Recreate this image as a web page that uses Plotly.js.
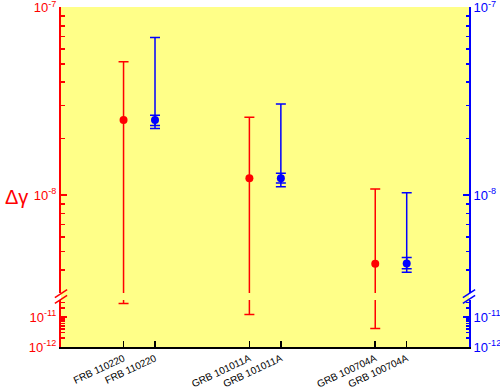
<!DOCTYPE html>
<html>
<head>
<meta charset="utf-8">
<script src="https://cdn.plot.ly/plotly-3.0.1.min.js"></script>
<style>html,body{margin:0;padding:0;background:#fff;}#chart{width:500px;height:390px;}</style>
</head>
<body>
<div id="chart"></div>
<script>
// ---- data ----
var categories = ["FRB 110220", "GRB 101011A", "GRB 100704A"];
var catPos = [1, 2, 3];
var pairOffset = 0.25;
// red series (left axis)
var redValue = [2.52e-8, 1.23e-8, 4.31e-9];
var redUpper = [5.14e-8, 2.60e-8, 1.08e-8];
var redLower = [2.8e-11, 1.2e-11, 4.1e-12];
// blue series (right axis)
var blueValue = [2.52e-8, 1.23e-8, 4.33e-9];
var blueUpper = [6.92e-8, 3.06e-8, 1.03e-8];
var blueLower = [2.27e-8, 1.11e-8, 3.89e-9];
var blueInnerUpper = [2.67e-8, 1.31e-8, 4.65e-9];
var blueInnerLower = [2.35e-8, 1.16e-8, 4.05e-9];
// axis ticks
var majorUpper = [1e-8, 1e-7];
var majorUpperText = ["10<sup>-8</sup>", "10<sup>-7</sup>"];
var majorLower = [1e-12, 1e-11];
var majorLowerText = ["10<sup>-12</sup>", "10<sup>-11</sup>"];

// ---- build ----
var RED = "#ff0000", BLUE = "#0000ff";
var xRed = catPos.slice();
var xBlue = catPos.map(function (c) { return c + pairOffset; });
var tickVals = [], tickText = [];
catPos.forEach(function (c, i) {
  tickVals.push(c, c + pairOffset);
  tickText.push(categories[i], categories[i]);
});
function diff(a, b) { return a.map(function (v, i) { return v - b[i]; }); }
function minors(decades) {
  var out = [];
  decades.forEach(function (d) { for (var k = 2; k <= 9; k++) out.push(k * d); });
  return out;
}

var upperRange = [-8.5213, -6.997];
var lowerRange = [-12.002, -10.4333];
var upperDomain = [0.1588, 1];
var lowerDomain = [0, 0.1382];

var traces = [
  { // red upper segment
    x: xRed, y: redValue, xaxis: "x", yaxis: "y", type: "scatter", mode: "markers",
    marker: { color: RED, size: 8 },
    error_y: { type: "data", symmetric: false, array: diff(redUpper, redValue),
      arrayminus: diff(redValue, redLower), color: RED, thickness: 1.5, width: 5 },
    hoverinfo: "skip", showlegend: false
  },
  { // red lower segment (continuation of error bars below the break)
    x: xRed, y: redValue, xaxis: "x", yaxis: "y3", type: "scatter", mode: "markers",
    marker: { color: RED, size: 8, opacity: 0 },
    error_y: { type: "data", symmetric: false, array: redValue.map(function () { return 0; }),
      arrayminus: diff(redValue, redLower), color: RED, thickness: 1.5, width: 5 },
    hoverinfo: "skip", showlegend: false
  },
  { // blue inner bars
    x: xBlue, y: blueValue, xaxis: "x", yaxis: "y2", type: "scatter", mode: "markers",
    marker: { color: BLUE, size: 8, opacity: 0 },
    error_y: { type: "data", symmetric: false, array: diff(blueInnerUpper, blueValue),
      arrayminus: diff(blueValue, blueInnerLower), color: BLUE, thickness: 1.5, width: 5 },
    hoverinfo: "skip", showlegend: false
  },
  { // blue main
    x: xBlue, y: blueValue, xaxis: "x", yaxis: "y2", type: "scatter", mode: "markers",
    marker: { color: BLUE, size: 8 },
    error_y: { type: "data", symmetric: false, array: diff(blueUpper, blueValue),
      arrayminus: diff(blueValue, blueLower), color: BLUE, thickness: 1.5, width: 5 },
    hoverinfo: "skip", showlegend: false
  },
  { // placeholder for right lower axis
    x: [null], y: [null], xaxis: "x", yaxis: "y4", type: "scatter", mode: "markers",
    hoverinfo: "skip", showlegend: false
  }
];

var font = "Arial, 'Liberation Sans', sans-serif";
function yAx(color, side, range, domain, tv, tt, mv, extra) {
  var a = {
    type: "log", range: range, domain: domain, side: side, anchor: "x",
    showline: true, linecolor: color, linewidth: 2,
    ticks: "inside", ticklen: 6, tickwidth: 1.5, tickcolor: color,
    tickmode: "array", tickvals: tv, ticktext: tt,
    tickfont: { family: font, size: 13, color: color },
    ticklabeloverflow: "allow",
    minor: { tickmode: "array", tickvals: mv, ticks: "inside", ticklen: 3.5, tickwidth: 1.5, tickcolor: color, showgrid: false },
    showgrid: false, zeroline: false, fixedrange: true
  };
  for (var k in extra) a[k] = extra[k];
  return a;
}

var layout = {
  width: 500, height: 390,
  margin: { l: 61, r: 31, t: 7, b: 43 },
  paper_bgcolor: "#ffffff", plot_bgcolor: "rgba(0,0,0,0)",
  showlegend: false,
  font: { family: font },
  xaxis: {
    range: [0.503, 3.745], anchor: "y3", domain: [0, 1],
    tickmode: "array", tickvals: tickVals, ticktext: tickText, tickangle: -25,
    tickfont: { family: font, size: 10, color: "#000" },
    ticks: "inside", ticklen: 6, tickwidth: 1.5, tickcolor: "#000",
    showline: true, linecolor: "#000", linewidth: 2,
    showgrid: false, zeroline: false, fixedrange: true
  },
  xaxis2: {
    range: [0.503, 3.745], anchor: "y", overlaying: "x", side: "top",
    tickmode: "array", tickvals: tickVals, showticklabels: false,
    ticks: "inside", ticklen: 6, tickwidth: 1.5, tickcolor: "#000",
    showline: true, linecolor: "#000", linewidth: 2,
    showgrid: false, zeroline: false, fixedrange: true
  },
  yaxis: yAx(RED, "left", upperRange, upperDomain, majorUpper, majorUpperText, minors([1e-9, 1e-8]), {}),
  yaxis2: yAx(BLUE, "right", upperRange, upperDomain, majorUpper, majorUpperText, minors([1e-9, 1e-8]), { overlaying: "y" }),
  yaxis3: yAx(RED, "left", lowerRange, lowerDomain, majorLower, majorLowerText, minors([1e-12, 1e-11]), {}),
  yaxis4: yAx(BLUE, "right", lowerRange, lowerDomain, majorLower, majorLowerText, minors([1e-12, 1e-11]), { overlaying: "y3" }),
  shapes: [
    { type: "rect", xref: "paper", yref: "paper", x0: 0, x1: 1, y0: 0, y1: 1,
      fillcolor: "#ffff88", line: { width: 0 }, layer: "below" },
    // axis break marks
    { type: "line", xref: "paper", yref: "paper", x0: -0.015, x1: 0.015, y0: 0.128, y1: 0.152, line: { color: RED, width: 1.5 } },
    { type: "line", xref: "paper", yref: "paper", x0: -0.015, x1: 0.015, y0: 0.145, y1: 0.169, line: { color: RED, width: 1.5 } },
    { type: "line", xref: "paper", yref: "paper", x0: 0.985, x1: 1.015, y0: 0.128, y1: 0.152, line: { color: BLUE, width: 1.5 } },
    { type: "line", xref: "paper", yref: "paper", x0: 0.985, x1: 1.015, y0: 0.145, y1: 0.169, line: { color: BLUE, width: 1.5 } }
  ],
  annotations: [
    { text: "Δγ", xref: "paper", yref: "paper", x: -0.11, y: 0.442, showarrow: false,
      font: { family: font, size: 20, color: RED }, xanchor: "center", yanchor: "middle" }
  ]
};

Plotly.newPlot("chart", traces, layout, { displayModeBar: false, staticPlot: true });
</script>
</body>
</html>
